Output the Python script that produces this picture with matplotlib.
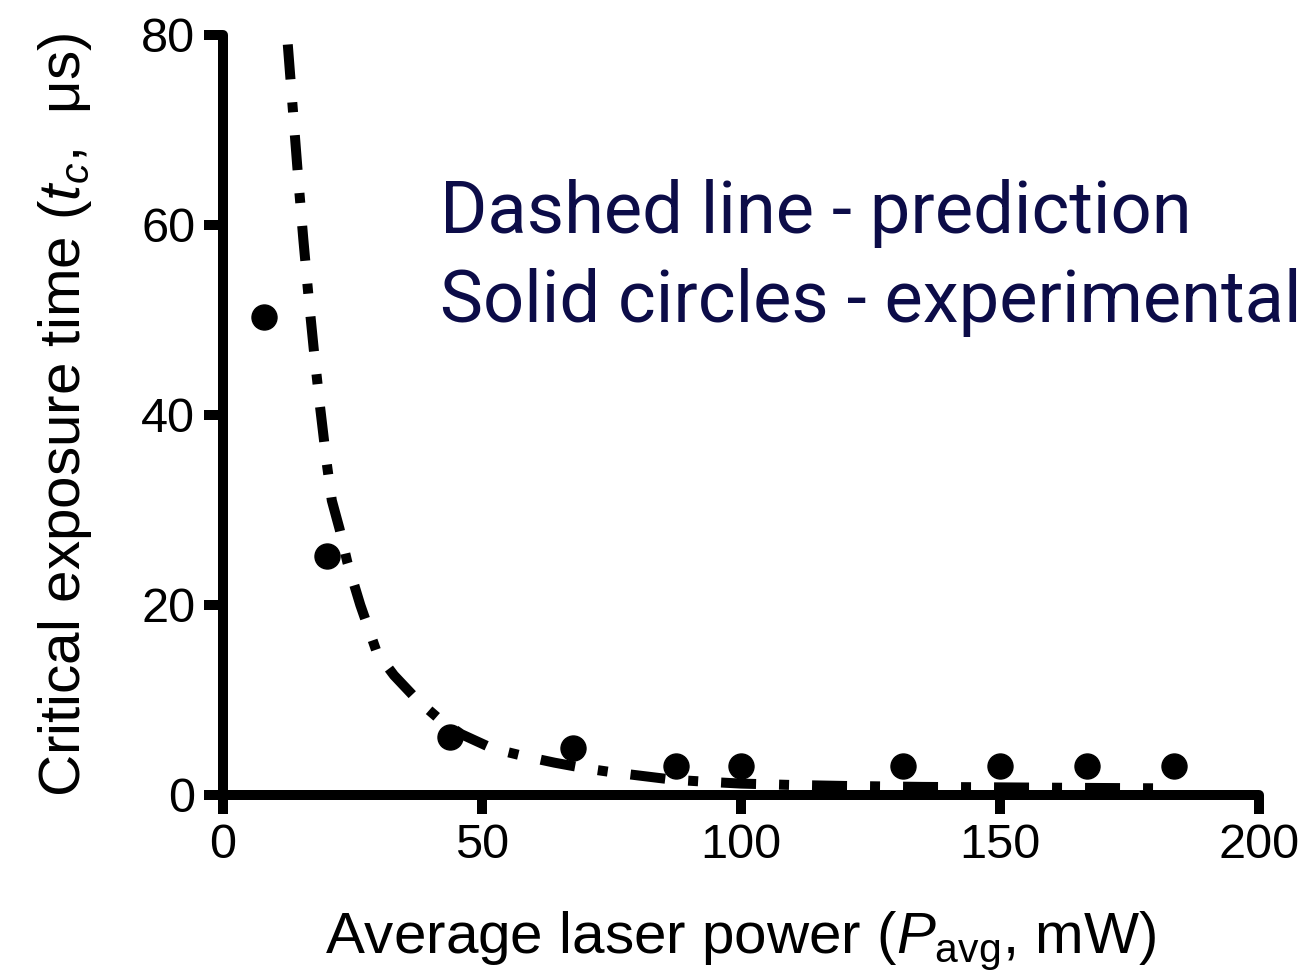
import matplotlib.pyplot as plt

plt.rcParams['font.family'] = ['Liberation Sans', 'DejaVu Sans']
plt.rcParams['mathtext.fontset'] = 'custom'
plt.rcParams['mathtext.rm'] = 'Liberation Sans'
plt.rcParams['mathtext.it'] = 'Liberation Sans:italic'

# experimental points (solid circles)
exp_power = [8.0, 20.0, 43.8, 67.6, 87.5, 100.0, 131.2, 150.0, 166.8, 183.5]
exp_time = [50.3, 25.2, 6.1, 4.9, 3.0, 3.0, 3.0, 3.0, 3.0, 3.0]

# predicted curve (dash-dot line)
pred_power = [12.5, 13.5, 14.5, 15.5, 16.5, 17.5, 18.7, 20.0, 21.0, 22.5, 24.0,
              26.5, 29.7, 33.0, 37.5, 41.5, 46.0, 52.0, 58.0, 64.0, 70.0, 75.0,
              81.0, 87.0, 93.0, 100.0, 110.0, 120.0, 135.0, 150.0, 165.0, 180.5]
pred_time = [79.0, 72.0, 65.0, 58.5, 52.5, 47.0, 41.0, 35.0, 31.0, 28.0, 24.5,
             20.0, 15.0, 12.6, 10.0, 8.1, 6.4, 4.9, 4.1, 3.4, 2.8, 2.4,
             2.0, 1.6, 1.4, 1.2, 1.05, 0.95, 0.85, 0.8, 0.75, 0.7]

x_ticks = [0, 50, 100, 150, 200]
y_ticks = [0, 20, 40, 60, 80]

fig = plt.figure(figsize=(13.05, 9.8), dpi=100)
ax = fig.add_axes([0.1709, 0.1888, 0.7939, 0.7755])

line, = ax.plot(pred_power, pred_time, color='black', linewidth=7.2,
                solid_capstyle='butt', dash_capstyle='butt', zorder=2)
line.set_dashes([3.5, 2.3, 1.0, 2.3])
ax.plot(exp_power, exp_time, 'o', color='black', markersize=18, zorder=3,
        clip_on=False)

ax.set_xlim(0, 200)
ax.set_ylim(0, 80)
ax.set_xticks(x_ticks)
ax.set_yticks(y_ticks)
for side in ['top', 'right']:
    ax.spines[side].set_visible(False)
for side in ['left', 'bottom']:
    ax.spines[side].set_linewidth(7.2)
    ax.spines[side].set_capstyle('round')
    ax.spines[side].set_zorder(4)
ax.tick_params(width=7.2, length=14, labelsize=35, pad=6)

ax.set_xlabel(r'Average laser power ($P_{\mathrm{avg}}$, mW)', fontsize=42, labelpad=30)
ax.set_ylabel(r'Critical exposure time ($t_c$,  μs)', fontsize=42, labelpad=34)

txt_color = '#0c0c48'
fig.text(0.337, 0.762, 'Dashed line - prediction', fontsize=52, color=txt_color,
         family=['Roboto', 'Liberation Sans'], va='baseline')
fig.text(0.337, 0.6714, 'Solid circles - experimental', fontsize=52, color=txt_color,
         family=['Roboto', 'Liberation Sans'], va='baseline')

fig.savefig('out.png', dpi=100)
